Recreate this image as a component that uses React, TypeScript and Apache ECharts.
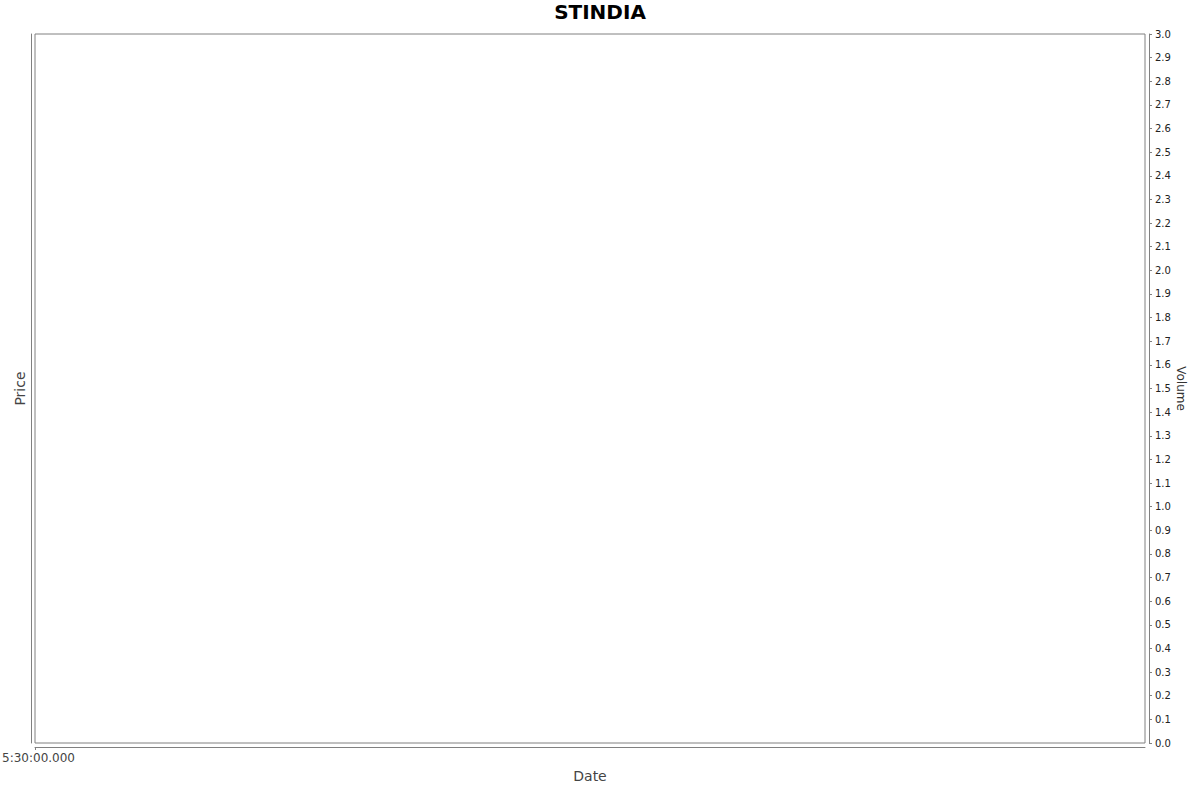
import { useEffect, useRef } from "react";
import * as echarts from "echarts";

const title = "STINDIA";
const xLabels = ["5:30:00.000"];
const volumeRange = [0, 3];
const volumeStep = 0.1;

const FONT = "DejaVu Sans";
const AXIS_GREY = "#808080";

export default function App() {
  const chartRef = useRef<HTMLDivElement>(null);

  useEffect(() => {
    if (!chartRef.current) return;
    const chart = echarts.init(chartRef.current, undefined, { renderer: "svg" });

    const option = {
      animation: false,
      backgroundColor: "#ffffff",
      title: {
        text: title,
        left: "center",
        top: -3,
        textStyle: { fontFamily: FONT, fontSize: 20, fontWeight: "bold", color: "#000" },
      },
      grid: {
        left: 35,
        right: 55,
        top: 34,
        bottom: 49,
        show: true,
        outerBoundsMode: "none",
        containLabel: false,
        borderColor: AXIS_GREY,
        borderWidth: 1,
        backgroundColor: "#ffffff",
      },
      xAxis: {
        type: "value",
        min: 0,
        max: 1,
        interval: 1,
        offset: 4,
        name: "Date",
        nameLocation: "middle",
        nameGap: 22,
        nameTextStyle: { fontFamily: FONT, fontSize: 14, color: "#444" },
        axisLine: { show: true, onZero: false, lineStyle: { color: AXIS_GREY } },
        axisTick: { show: true, length: 3, customValues: [0], lineStyle: { color: AXIS_GREY } },
        axisLabel: {
          customValues: [0],
          formatter: () => xLabels[0],
          fontFamily: FONT,
          fontSize: 12,
          color: "#444",
          margin: 5,
          padding: [0, 0, 0, 7],
        },
        splitLine: { show: false },
      },
      yAxis: [
        {
          type: "value",
          position: "right",
          min: volumeRange[0],
          max: volumeRange[1],
          interval: volumeStep,
          offset: 4,
          name: "Volume",
          nameLocation: "middle",
          nameRotate: -90,
          nameGap: 26,
          nameMoveOverlap: false,
          nameTextStyle: { fontFamily: FONT, fontSize: 12, color: "#333" },
          axisLine: { show: true, onZero: false, lineStyle: { color: AXIS_GREY } },
          axisTick: { show: true, length: 3, lineStyle: { color: AXIS_GREY } },
          axisLabel: {
            fontFamily: FONT,
            fontSize: 10,
            color: "#222",
            margin: 6,
            formatter: (v: number) => v.toFixed(1),
          },
          splitLine: { show: false },
        },
        {
          type: "value",
          position: "left",
          min: 0,
          max: 1,
          offset: 4,
          name: "Price",
          nameLocation: "middle",
          nameGap: 4,
          nameTextStyle: { fontFamily: FONT, fontSize: 14, color: "#444" },
          axisLine: { show: true, onZero: false, lineStyle: { color: AXIS_GREY } },
          axisTick: { show: false },
          axisLabel: { show: false },
          splitLine: { show: false },
        },
      ],
      series: [],
    };

    chart.setOption(option);
    return () => chart.dispose();
  }, []);

  return (
    <div
      ref={chartRef}
      style={{ position: "fixed", left: 0, top: 0, width: "1200px", height: "792px" }}
    />
  );
}
